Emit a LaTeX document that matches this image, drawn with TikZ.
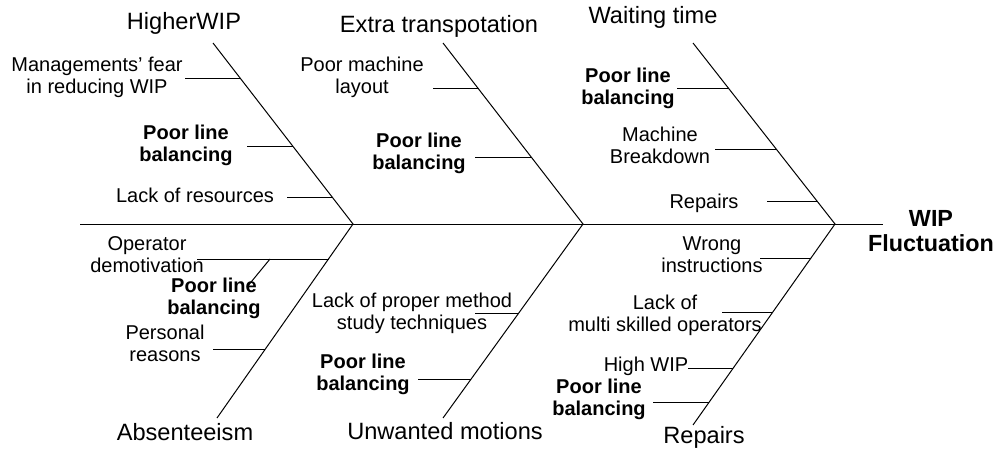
\documentclass[tikz,border=0pt]{standalone}
\usepackage{fontspec}
\setmainfont{Liberation Sans}
\begin{document}
\begin{tikzpicture}[x=0.75pt, y=-0.75pt,
        bone/.style={line width=0.75pt},
        cause/.style={align=center, inner sep=0pt, font=\fontsize{15}{16.4}\selectfont},
        key/.style={cause, font=\fontsize{15}{16.4}\selectfont\bfseries},
        group/.style={inner sep=0pt, font=\fontsize{17.7}{20}\selectfont},
        effect/.style={align=center, inner sep=0pt, font=\fontsize{17.5}{18.8}\selectfont\bfseries}
    ]
        \useasboundingbox (0,0) rectangle (994,449);

        % Spine and joints (absolute positioning)
        \coordinate (tail) at (80,224);
        \coordinate (j1) at (353,224);
        \coordinate (j2) at (583,224);
        \coordinate (j3) at (835,224);
        \coordinate (head) at (883,224);

        % Bone ends
        \coordinate (s1) at (213,43);
        \coordinate (s2) at (443,43);
        \coordinate (s3) at (693,43);
        \coordinate (e1) at (217,418);
        \coordinate (e2) at (443,418);
        \coordinate (e3) at (693,425);

        % Group titles
        \node[group] (higher) at (184,23) {HigherWIP};
        \node[group] (transport) at (439,26) {Extra transpotation};
        \node[group] (waiting) at (653,17) {Waiting time};
        \node[group] (absent) at (185,432) {Absenteeism};
        \node[group] (motion) at (445,431) {Unwanted motions};
        \node[group] (repair) at (704,437) {Repairs};
        \node[effect] (wip) at (931,231) {WIP\\Fluctuation};

        % Causes, upper half
        \node[cause] (fear) at (97,77) {Managements' fear\\in reducing WIP};
        \node[key] (plb1) at (186,145) {Poor line\\balancing};
        \node[cause] (resource) at (195,195) {Lack of resources};
        \node[cause] (layout) at (362,77) {Poor machine\\layout};
        \node[key] (plb2) at (419,153) {Poor line\\balancing};
        \node[key] (plb3) at (628,88) {Poor line\\balancing};
        \node[cause] (breakdown) at (660,145) {Machine\\Breakdown};
        \node[cause] (repairs) at (704,203) {Repairs};

        % Causes, lower half
        \node[cause] (demot) at (147,255) {Operator\\demotivation};
        \node[key] (plb4) at (214,298) {Poor line\\balancing};
        \node[cause] (personal) at (165,343) {Personal\\reasons};
        \node[cause] (method) at (412,313) {Lack of proper method\\study techniques};
        \node[key] (plb5) at (363,374) {Poor line\\balancing};
        \node[cause] (wrong) at (712,255) {Wrong\\instructions};
        \node[cause] (skill) at (665,315) {Lack of\\multi skilled operators};
        \node[cause] (highwip) at (646,366) {High WIP};
        \node[key] (plb6) at (599,399) {Poor line\\balancing};

        % Tick ends
        \coordinate (a11) at (185,79);  \coordinate (b11) at (241,79);
        \coordinate (a12) at (247,146); \coordinate (b12) at (293,146);
        \coordinate (a13) at (287,197); \coordinate (b13) at (332,197);
        \coordinate (a21) at (433,89);  \coordinate (b21) at (479,89);
        \coordinate (a22) at (475,157); \coordinate (b22) at (531,157);
        \coordinate (a31) at (677,89);  \coordinate (b31) at (729,89);
        \coordinate (a32) at (715,149); \coordinate (b32) at (776,149);
        \coordinate (a33) at (767,201); \coordinate (b33) at (817,201);
        \coordinate (c11) at (197,259); \coordinate (d11) at (329,259);
        \coordinate (c1x) at (270,259); \coordinate (d1x) at (247,287);
        \coordinate (c12) at (213,349); \coordinate (d12) at (265,349);
        \coordinate (c21) at (475,313); \coordinate (d21) at (519,313);
        \coordinate (c22) at (418,379); \coordinate (d22) at (471,379);
        \coordinate (c31) at (760,258); \coordinate (d31) at (811,258);
        \coordinate (c32) at (722,312); \coordinate (d32) at (773,312);
        \coordinate (c33) at (688,368); \coordinate (d33) at (733,368);
        \coordinate (c34) at (653,402); \coordinate (d34) at (709,402);

        % Bones
        \draw[bone] (tail) -- (head);
        \draw[bone] (s1) -- (j1) -- (e1);
        \draw[bone] (s2) -- (j2) -- (e2);
        \draw[bone] (s3) -- (j3) -- (e3);

        % Ticks
        \draw[bone] (a11) -- (b11);
        \draw[bone] (a12) -- (b12);
        \draw[bone] (a13) -- (b13);
        \draw[bone] (a21) -- (b21);
        \draw[bone] (a22) -- (b22);
        \draw[bone] (a31) -- (b31);
        \draw[bone] (a32) -- (b32);
        \draw[bone] (a33) -- (b33);
        \draw[bone] (c11) -- (d11);
        \draw[bone] (c1x) -- (d1x);
        \draw[bone] (c12) -- (d12);
        \draw[bone] (c21) -- (d21);
        \draw[bone] (c22) -- (d22);
        \draw[bone] (c31) -- (d31);
        \draw[bone] (c32) -- (d32);
        \draw[bone] (c33) -- (d33);
        \draw[bone] (c34) -- (d34);

    \end{tikzpicture}
\end{document}
